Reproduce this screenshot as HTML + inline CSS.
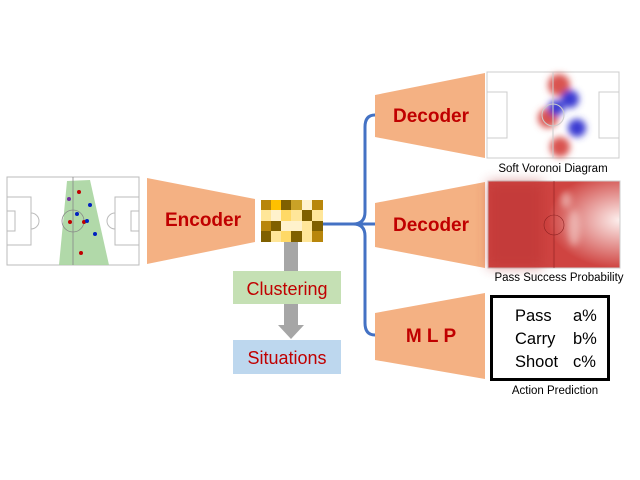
<!DOCTYPE html>
<html><head><meta charset="utf-8"><style>
html,body{margin:0;padding:0;background:#fff;}
svg{display:block;font-family:"Liberation Sans",sans-serif;}
</style></head><body>
<svg width="640" height="480" viewBox="0 0 640 480" xmlns="http://www.w3.org/2000/svg">
<defs>
<filter id="bl" x="-50%" y="-50%" width="200%" height="200%"><feGaussianBlur stdDeviation="3.5"/></filter>
<filter id="bl2" x="-50%" y="-50%" width="200%" height="200%"><feGaussianBlur stdDeviation="6"/></filter>
<radialGradient id="pg" cx="1" cy="0.45" r="0.55"><stop offset="0" stop-color="#fdf0ee"/><stop offset="1" stop-color="#cf4441"/></radialGradient>
</defs>
<!-- left pitch -->
<rect x="7" y="177" width="132" height="88" fill="#fff" stroke="#bbb"/>
<polygon points="67,181 90,180 109,265 59,265" fill="#a9d5a0" opacity="0.9"/>
<line x1="73" y1="177" x2="73" y2="265" stroke="#888" stroke-width="0.8"/>
<circle cx="73" cy="221" r="11" fill="none" stroke="#888" stroke-width="0.8"/>
<rect x="7" y="197" width="24" height="48" fill="none" stroke="#bbb"/>
<rect x="7" y="211" width="8" height="20" fill="none" stroke="#bbb"/>
<path d="M31,213 A8,8 0 0 1 31,229" fill="none" stroke="#bbb"/>
<rect x="115" y="197" width="24" height="48" fill="none" stroke="#bbb"/>
<rect x="131" y="211" width="8" height="20" fill="none" stroke="#bbb"/>
<path d="M115,213 A8,8 0 0 0 115,229" fill="none" stroke="#bbb"/>
<g fill="#c00000"><circle cx="79" cy="192" r="2"/><circle cx="70" cy="222" r="2"/><circle cx="84" cy="222" r="2"/><circle cx="81" cy="253" r="2"/></g>
<circle cx="69" cy="199" r="2" fill="#7030a0"/>
<g fill="#0020c0"><circle cx="90" cy="205" r="2"/><circle cx="77" cy="214" r="2"/><circle cx="87" cy="221" r="2"/><circle cx="95" cy="234" r="2"/></g>
<!-- encoder -->
<polygon points="147,178 255,199 255,242 147,264" fill="#f4b183"/>
<text x="203" y="226" font-size="19" font-weight="bold" fill="#c00000" text-anchor="middle">Encoder</text>
<!-- latent grid -->
<g>
<rect x="261" y="200" width="11" height="11" fill="#b8860b"/><rect x="271" y="200" width="11" height="11" fill="#ffc000"/><rect x="281" y="200" width="11" height="11" fill="#7f6000"/><rect x="291" y="200" width="11" height="11" fill="#c9a227"/><rect x="302" y="200" width="11" height="11" fill="#fff2cc"/><rect x="312" y="200" width="11" height="11" fill="#b8860b"/>
<rect x="261" y="210" width="11" height="11" fill="#ffe699"/><rect x="271" y="210" width="11" height="11" fill="#fff2cc"/><rect x="281" y="210" width="11" height="11" fill="#ffd966"/><rect x="291" y="210" width="11" height="11" fill="#ffe699"/><rect x="302" y="210" width="11" height="11" fill="#7f6000"/><rect x="312" y="210" width="11" height="11" fill="#ffe699"/>
<rect x="261" y="221" width="11" height="11" fill="#b8860b"/><rect x="271" y="221" width="11" height="11" fill="#7f6000"/><rect x="281" y="221" width="11" height="11" fill="#fff2cc"/><rect x="291" y="221" width="11" height="11" fill="#fff2cc"/><rect x="302" y="221" width="11" height="11" fill="#ffe699"/><rect x="312" y="221" width="11" height="11" fill="#7f6000"/>
<rect x="261" y="231" width="11" height="11" fill="#7f6000"/><rect x="271" y="231" width="11" height="11" fill="#ffe699"/><rect x="281" y="231" width="11" height="11" fill="#ffd966"/><rect x="291" y="231" width="11" height="11" fill="#7f6000"/><rect x="302" y="231" width="11" height="11" fill="#ffe699"/><rect x="312" y="231" width="11" height="11" fill="#b8860b"/>
</g>
<!-- gray arrow -->
<rect x="284" y="242" width="14" height="84" fill="#a6a6a6"/>
<polygon points="278,325 304,325 291,339" fill="#a6a6a6"/>
<rect x="233" y="271" width="108" height="33" fill="#c5e0b4"/>
<text x="287" y="295" font-size="18" fill="#c00000" text-anchor="middle">Clustering</text>
<rect x="233" y="340" width="108" height="34" fill="#bdd7ee"/>
<text x="287" y="364" font-size="18" fill="#c00000" text-anchor="middle">Situations</text>
<!-- brace -->
<path d="M323,224 L353,224 M375,115 Q365,115 365,127 L365,212 Q365,224 353,224 Q365,224 365,236 L365,323 Q365,335 375,335 M355,224 L375,224" fill="none" stroke="#4472c4" stroke-width="3"/>
<!-- decoders -->
<polygon points="375,95 485,73 485,158 375,137" fill="#f4b183"/>
<text x="431" y="122" font-size="19" font-weight="bold" fill="#c00000" text-anchor="middle">Decoder</text>
<polygon points="375,203 485,182 485,268 375,247" fill="#f4b183"/>
<text x="431" y="231" font-size="19" font-weight="bold" fill="#c00000" text-anchor="middle">Decoder</text>
<polygon points="375,313 485,293 485,379 375,360" fill="#f4b183"/>
<text x="431" y="342" font-size="19" font-weight="bold" fill="#c00000" text-anchor="middle">M L P</text>
<!-- voronoi -->
<rect x="487" y="72" width="132" height="86" fill="#fff" stroke="#ccc"/>
<g filter="url(#bl)">
<circle cx="559" cy="85" r="11" fill="#d9534f"/><circle cx="548" cy="118" r="10" fill="#d9534f"/><circle cx="560" cy="147" r="10" fill="#d9534f"/>
<circle cx="570" cy="99" r="9" fill="#3b3bd1"/><circle cx="556" cy="108" r="8" fill="#3b3bd1"/><circle cx="577" cy="128" r="9" fill="#3b3bd1"/>
</g>
<line x1="553" y1="72" x2="553" y2="158" stroke="#ccc"/>
<circle cx="553" cy="115" r="11" fill="none" stroke="#ccc"/>
<rect x="487" y="92" width="20" height="46" fill="none" stroke="#ccc"/><rect x="599" y="92" width="20" height="46" fill="none" stroke="#ccc"/>
<text x="553" y="172" font-size="11.5" fill="#000" text-anchor="middle">Soft Voronoi Diagram</text>
<!-- pass success -->
<rect x="488" y="181" width="132" height="87" fill="url(#pg)" stroke="#ccc"/>
<rect x="488" y="181" width="55" height="87" fill="#b83232" opacity="0.45" filter="url(#bl2)"/>
<g filter="url(#bl)" opacity="0.6"><ellipse cx="574" cy="228" rx="6" ry="18" fill="#f5d0cc"/><ellipse cx="566" cy="200" rx="5" ry="8" fill="#f5d0cc"/></g>
<line x1="554" y1="181" x2="554" y2="268" stroke="#8b2020" stroke-width="0.6"/>
<circle cx="554" cy="225" r="10" fill="none" stroke="#8b2020" stroke-width="0.6"/>
<text x="559" y="281" font-size="11.5" fill="#000" text-anchor="middle">Pass Success Probability</text>
<!-- action box -->
<rect x="491.5" y="296.5" width="117" height="83" fill="#fff" stroke="#000" stroke-width="3"/>
<g font-size="16.5" fill="#000">
<text x="515" y="321">Pass</text><text x="573" y="321">a%</text>
<text x="515" y="344">Carry</text><text x="573" y="344">b%</text>
<text x="515" y="367">Shoot</text><text x="573" y="367">c%</text>
</g>
<text x="555" y="394" font-size="11.5" fill="#000" text-anchor="middle">Action Prediction</text>
</svg>
</body></html>
